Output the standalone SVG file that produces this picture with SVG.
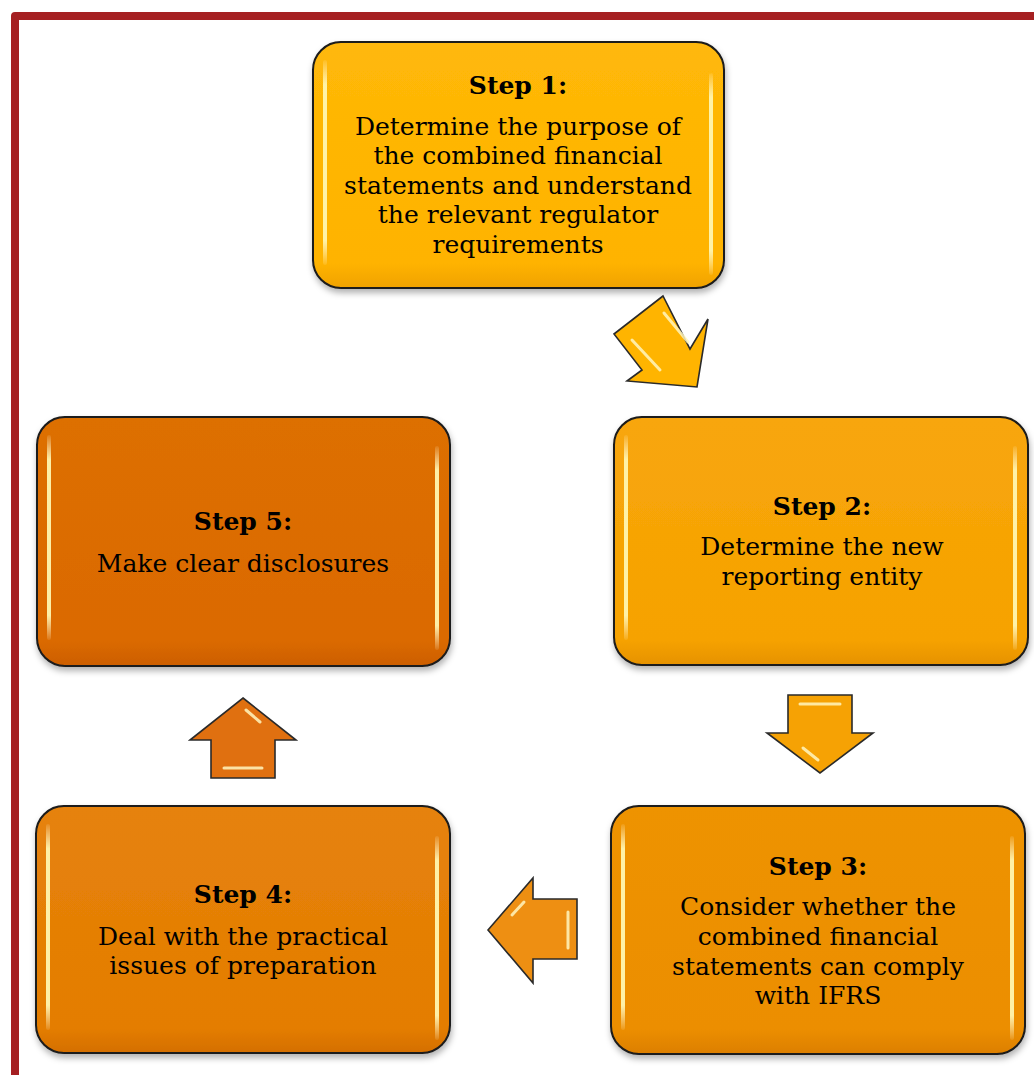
<svg xmlns="http://www.w3.org/2000/svg" width="1034" height="1075" viewBox="0 0 1034 1075">
<style>
  .box { stroke: #1a1a1a; stroke-width: 2; }
  .t { font-family: "DejaVu Serif", "Liberation Serif", serif; font-size: 25px; fill: #000; text-anchor: middle; }
  .b { font-weight: bold; }
  .hl { fill: url(#hlv); }
  .arr { stroke: #2a2a2a; stroke-width: 1.6; stroke-linejoin: miter; }
  .ahl { stroke: #fff6c0; stroke-width: 3; stroke-linecap: round; fill: none; opacity: 0.85; }
</style>
<defs>
  <filter id="sh" x="-10%" y="-10%" width="120%" height="130%">
    <feDropShadow dx="1" dy="4" stdDeviation="3" flood-color="#000" flood-opacity="0.3"/>
  </filter>
  <linearGradient id="hlv" x1="0" y1="0" x2="0" y2="1">
    <stop offset="0" stop-color="#fffbe0" stop-opacity="0.1"/>
    <stop offset="0.12" stop-color="#fff6b0" stop-opacity="0.95"/>
    <stop offset="0.88" stop-color="#fff6b0" stop-opacity="0.95"/>
    <stop offset="1" stop-color="#fffbe0" stop-opacity="0.1"/>
  </linearGradient>
  <linearGradient id="g1" x1="0" y1="0" x2="0" y2="1">
    <stop offset="0" stop-color="#ffb808"/><stop offset="0.9" stop-color="#ffb300"/><stop offset="1" stop-color="#f0a200"/>
  </linearGradient>
  <linearGradient id="g2" x1="0" y1="0" x2="0" y2="1">
    <stop offset="0" stop-color="#f8a60a"/><stop offset="0.9" stop-color="#f6a202"/><stop offset="1" stop-color="#e69200"/>
  </linearGradient>
  <linearGradient id="g3" x1="0" y1="0" x2="0" y2="1">
    <stop offset="0" stop-color="#ee9306"/><stop offset="0.9" stop-color="#ec8e00"/><stop offset="1" stop-color="#dc7f00"/>
  </linearGradient>
  <linearGradient id="g4" x1="0" y1="0" x2="0" y2="1">
    <stop offset="0" stop-color="#e6820a"/><stop offset="0.9" stop-color="#e47d02"/><stop offset="1" stop-color="#d46f00"/>
  </linearGradient>
  <linearGradient id="g5" x1="0" y1="0" x2="0" y2="1">
    <stop offset="0" stop-color="#dd6f06"/><stop offset="0.9" stop-color="#db6a00"/><stop offset="1" stop-color="#cc5e00"/>
  </linearGradient>
</defs>

<rect width="1034" height="1075" fill="#ffffff"/>

<!-- frame -->
<path d="M15 1075 V16 H1034" fill="none" stroke="#a52022" stroke-width="8" stroke-linejoin="round"/>

<g id="node-step1">
  <rect class="box" x="313" y="42" width="411" height="246" rx="28" fill="url(#g1)" filter="url(#sh)"/>
  <rect class="hl" x="323" y="60" width="4" height="205" rx="2"/>
  <rect class="hl" x="709" y="73" width="4" height="202" rx="2"/>
  <text class="t b" x="518" y="94">Step 1:</text>
  <text class="t" x="518" y="135">Determine the purpose of</text>
  <text class="t" x="518" y="164">the combined financial</text>
  <text class="t" x="518" y="194">statements and understand</text>
  <text class="t" x="518" y="223">the relevant regulator</text>
  <text class="t" x="518" y="253">requirements</text>
</g>

<g id="node-step2">
  <rect class="box" x="614" y="417" width="414" height="248" rx="28" fill="url(#g2)" filter="url(#sh)"/>
  <rect class="hl" x="624" y="435" width="4" height="205" rx="2"/>
  <rect class="hl" x="1013" y="446" width="4" height="204" rx="2"/>
  <text class="t b" x="822" y="515">Step 2:</text>
  <text class="t" x="822" y="555">Determine the new</text>
  <text class="t" x="822" y="585">reporting entity</text>
</g>

<g id="node-step3">
  <rect class="box" x="611" y="806" width="414" height="248" rx="28" fill="url(#g3)" filter="url(#sh)"/>
  <rect class="hl" x="621" y="824" width="4" height="206" rx="2"/>
  <rect class="hl" x="1010" y="836" width="4" height="204" rx="2"/>
  <text class="t b" x="818" y="875">Step 3:</text>
  <text class="t" x="818" y="915">Consider whether the</text>
  <text class="t" x="818" y="945">combined financial</text>
  <text class="t" x="818" y="975">statements can comply</text>
  <text class="t" x="818" y="1004">with IFRS</text>
</g>

<g id="node-step4">
  <rect class="box" x="36" y="806" width="414" height="247" rx="28" fill="url(#g4)" filter="url(#sh)"/>
  <rect class="hl" x="46" y="824" width="4" height="206" rx="2"/>
  <rect class="hl" x="435" y="836" width="4" height="204" rx="2"/>
  <text class="t b" x="243" y="903">Step 4:</text>
  <text class="t" x="243" y="945">Deal with the practical</text>
  <text class="t" x="243" y="974">issues of preparation</text>
</g>

<g id="node-step5">
  <rect class="box" x="37" y="417" width="413" height="249" rx="28" fill="url(#g5)" filter="url(#sh)"/>
  <rect class="hl" x="47" y="435" width="4" height="205" rx="2"/>
  <rect class="hl" x="435" y="446" width="4" height="204" rx="2"/>
  <text class="t b" x="243" y="530">Step 5:</text>
  <text class="t" x="243" y="572">Make clear disclosures</text>
</g>

<g id="connectors">
  <!-- Step 1 -> Step 2 (diagonal) -->
  <polygon class="arr" fill="#ffb400" points="663,296 614,334 642,370 627,381 697,387 708,319 690,349"/>
  <line class="ahl" x1="632" y1="340" x2="660" y2="370"/>
  <line class="ahl" x1="664" y1="313" x2="688" y2="342"/>
  <!-- Step 2 -> Step 3 (down) -->
  <polygon class="arr" fill="#f6a204" points="788,695 852,695 852,733 873,733 820,773 767,733 788,733"/>
  <line class="ahl" x1="800" y1="704" x2="840" y2="704"/>
  <line class="ahl" x1="803" y1="748" x2="818" y2="760"/>
  <!-- Step 3 -> Step 4 (left) -->
  <polygon class="arr" fill="#ee8f12" points="488,930 533,878 533,899 577,899 577,959 533,959 533,983"/>
  <line class="ahl" x1="568" y1="912" x2="568" y2="948"/>
  <line class="ahl" x1="512" y1="915" x2="524" y2="902"/>
  <!-- Step 4 -> Step 5 (up) -->
  <polygon class="arr" fill="#e07010" points="243,698 296,740 275,740 275,778 211,778 211,740 190,740"/>
  <line class="ahl" x1="224" y1="768" x2="262" y2="768"/>
  <line class="ahl" x1="246" y1="710" x2="260" y2="722"/>
</g>
</svg>
